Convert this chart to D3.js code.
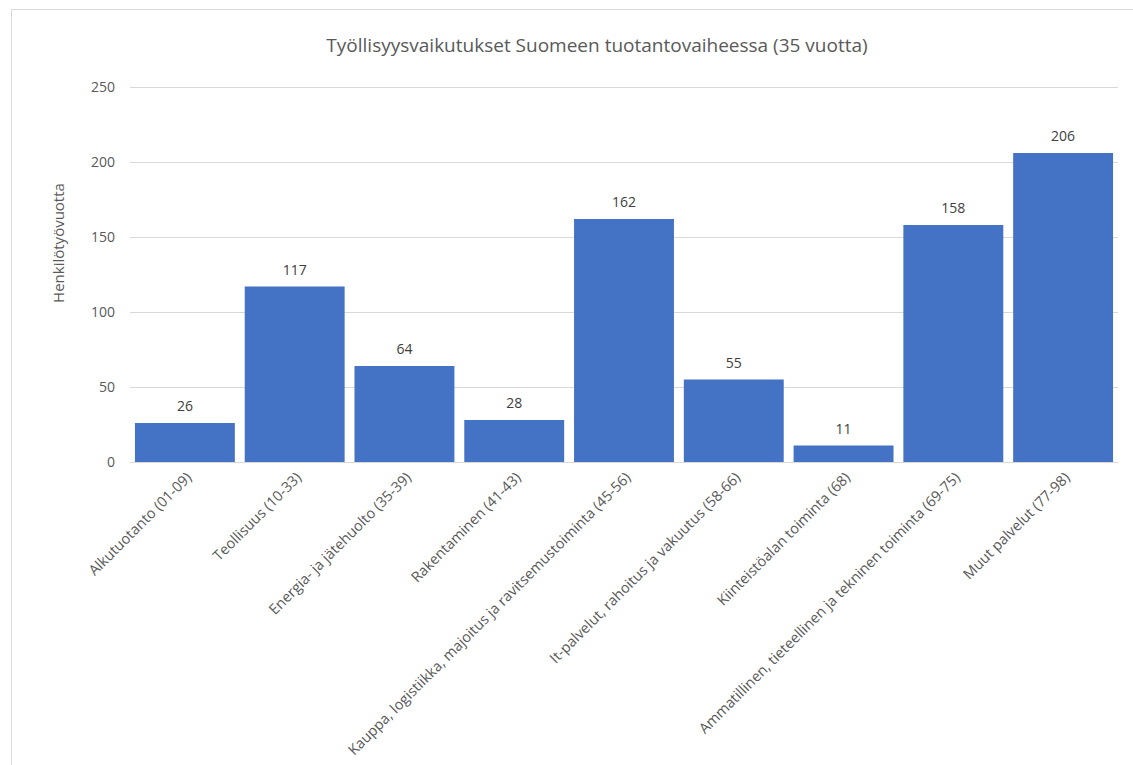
<!DOCTYPE html>
<html>
<head>
<meta charset="utf-8">
<script src="https://cdn.jsdelivr.net/npm/d3@7"></script>
<style>
  body { margin: 0; background: #fff; }
  text { font-family: "Open Sans", "Noto Sans", sans-serif; }
</style>
</head>
<body>
<svg id="chart" width="1133" height="765"></svg>
<script>
// data
const categories = [
    "Alkutuotanto (01-09)",
    "Teollisuus (10-33)",
    "Energia- ja jätehuolto (35-39)",
    "Rakentaminen (41-43)",
    "Kauppa, logistiikka, majoitus ja ravitsemustoiminta (45-56)",
    "It-palvelut, rahoitus ja vakuutus (58-66)",
    "Kiinteistöalan toiminta (68)",
    "Ammatillinen, tieteellinen ja tekninen toiminta (69-75)",
    "Muut palvelut (77-98)"
];
const values = [26, 117, 64, 28, 162, 55, 11, 158, 206];
const yTicks = [0, 50, 100, 150, 200, 250];
const title = "Työllisyysvaikutukset Suomeen tuotantovaiheessa (35 vuotta)";
const yLabel = "Henkilötyövuotta";

const margin = {top: 87, right: 15, bottom: 303, left: 130},
    width = 1133 - margin.left - margin.right,
    height = 765 - margin.top - margin.bottom;

const svg = d3.select("#chart");

// chart border
svg.append("path")
    .attr("d", "M11.5,765 V9.5 H1133")
    .style("fill", "none")
    .style("stroke", "#D9D9D9")
    .style("stroke-width", "1px");

const g = svg.append("g")
    .attr("transform", `translate(${margin.left}, ${margin.top})`);

const x = d3.scaleBand()
    .domain(categories)
    .range([0, width])
    .paddingInner(0.09)
    .paddingOuter(0.045);

const y = d3.scaleLinear()
    .domain([0, 250])
    .range([height, 0]);

// gridlines
g.selectAll(".grid")
    .data(yTicks)
    .enter().append("line")
    .attr("class", "grid")
    .attr("x1", 0)
    .attr("x2", width)
    .attr("y1", d => Math.round(y(d)) + 0.5)
    .attr("y2", d => Math.round(y(d)) + 0.5)
    .style("stroke", "#D9D9D9")
    .style("stroke-width", "1px");

// y tick labels
g.selectAll(".ytick")
    .data(yTicks)
    .enter().append("text")
    .attr("class", "ytick")
    .attr("x", -15)
    .attr("y", d => y(d))
    .attr("dy", "0.35em")
    .attr("text-anchor", "end")
    .style("font-size", "14px")
    .style("fill", "#595959")
    .text(d => d);

// bars
g.selectAll(".bar")
    .data(values)
    .enter().append("rect")
    .attr("class", "bar")
    .attr("x", (d, i) => x(categories[i]))
    .attr("y", d => y(d))
    .attr("width", x.bandwidth())
    .attr("height", d => height - y(d))
    .style("fill", "#4472C4");

// value labels
g.selectAll(".vlabel")
    .data(values)
    .enter().append("text")
    .attr("class", "vlabel")
    .attr("x", (d, i) => x(categories[i]) + x.bandwidth() / 2)
    .attr("y", d => y(d) - 12)
    .attr("text-anchor", "middle")
    .style("font-size", "14px")
    .style("fill", "#404040")
    .text(d => d);

// x labels, rotated
g.selectAll(".xlabel")
    .data(categories)
    .enter().append("text")
    .attr("class", "xlabel")
    .attr("transform", d => `translate(${x(d) + x.bandwidth() / 2 + 4}, ${height + 13}) rotate(-45)`)
    .attr("text-anchor", "end")
    .attr("dy", "0.35em")
    .style("font-size", "14.5px")
    .style("fill", "#595959")
    .text(d => d);

// title
svg.append("text")
    .attr("x", 597)
    .attr("y", 52)
    .attr("text-anchor", "middle")
    .style("font-size", "19px")
    .style("fill", "#595959")
    .text(title);

// y axis title
svg.append("text")
    .attr("transform", "translate(64, 243) rotate(-90)")
    .attr("text-anchor", "middle")
    .style("font-size", "15px")
    .style("fill", "#595959")
    .text(yLabel);
</script>
</body>
</html>
